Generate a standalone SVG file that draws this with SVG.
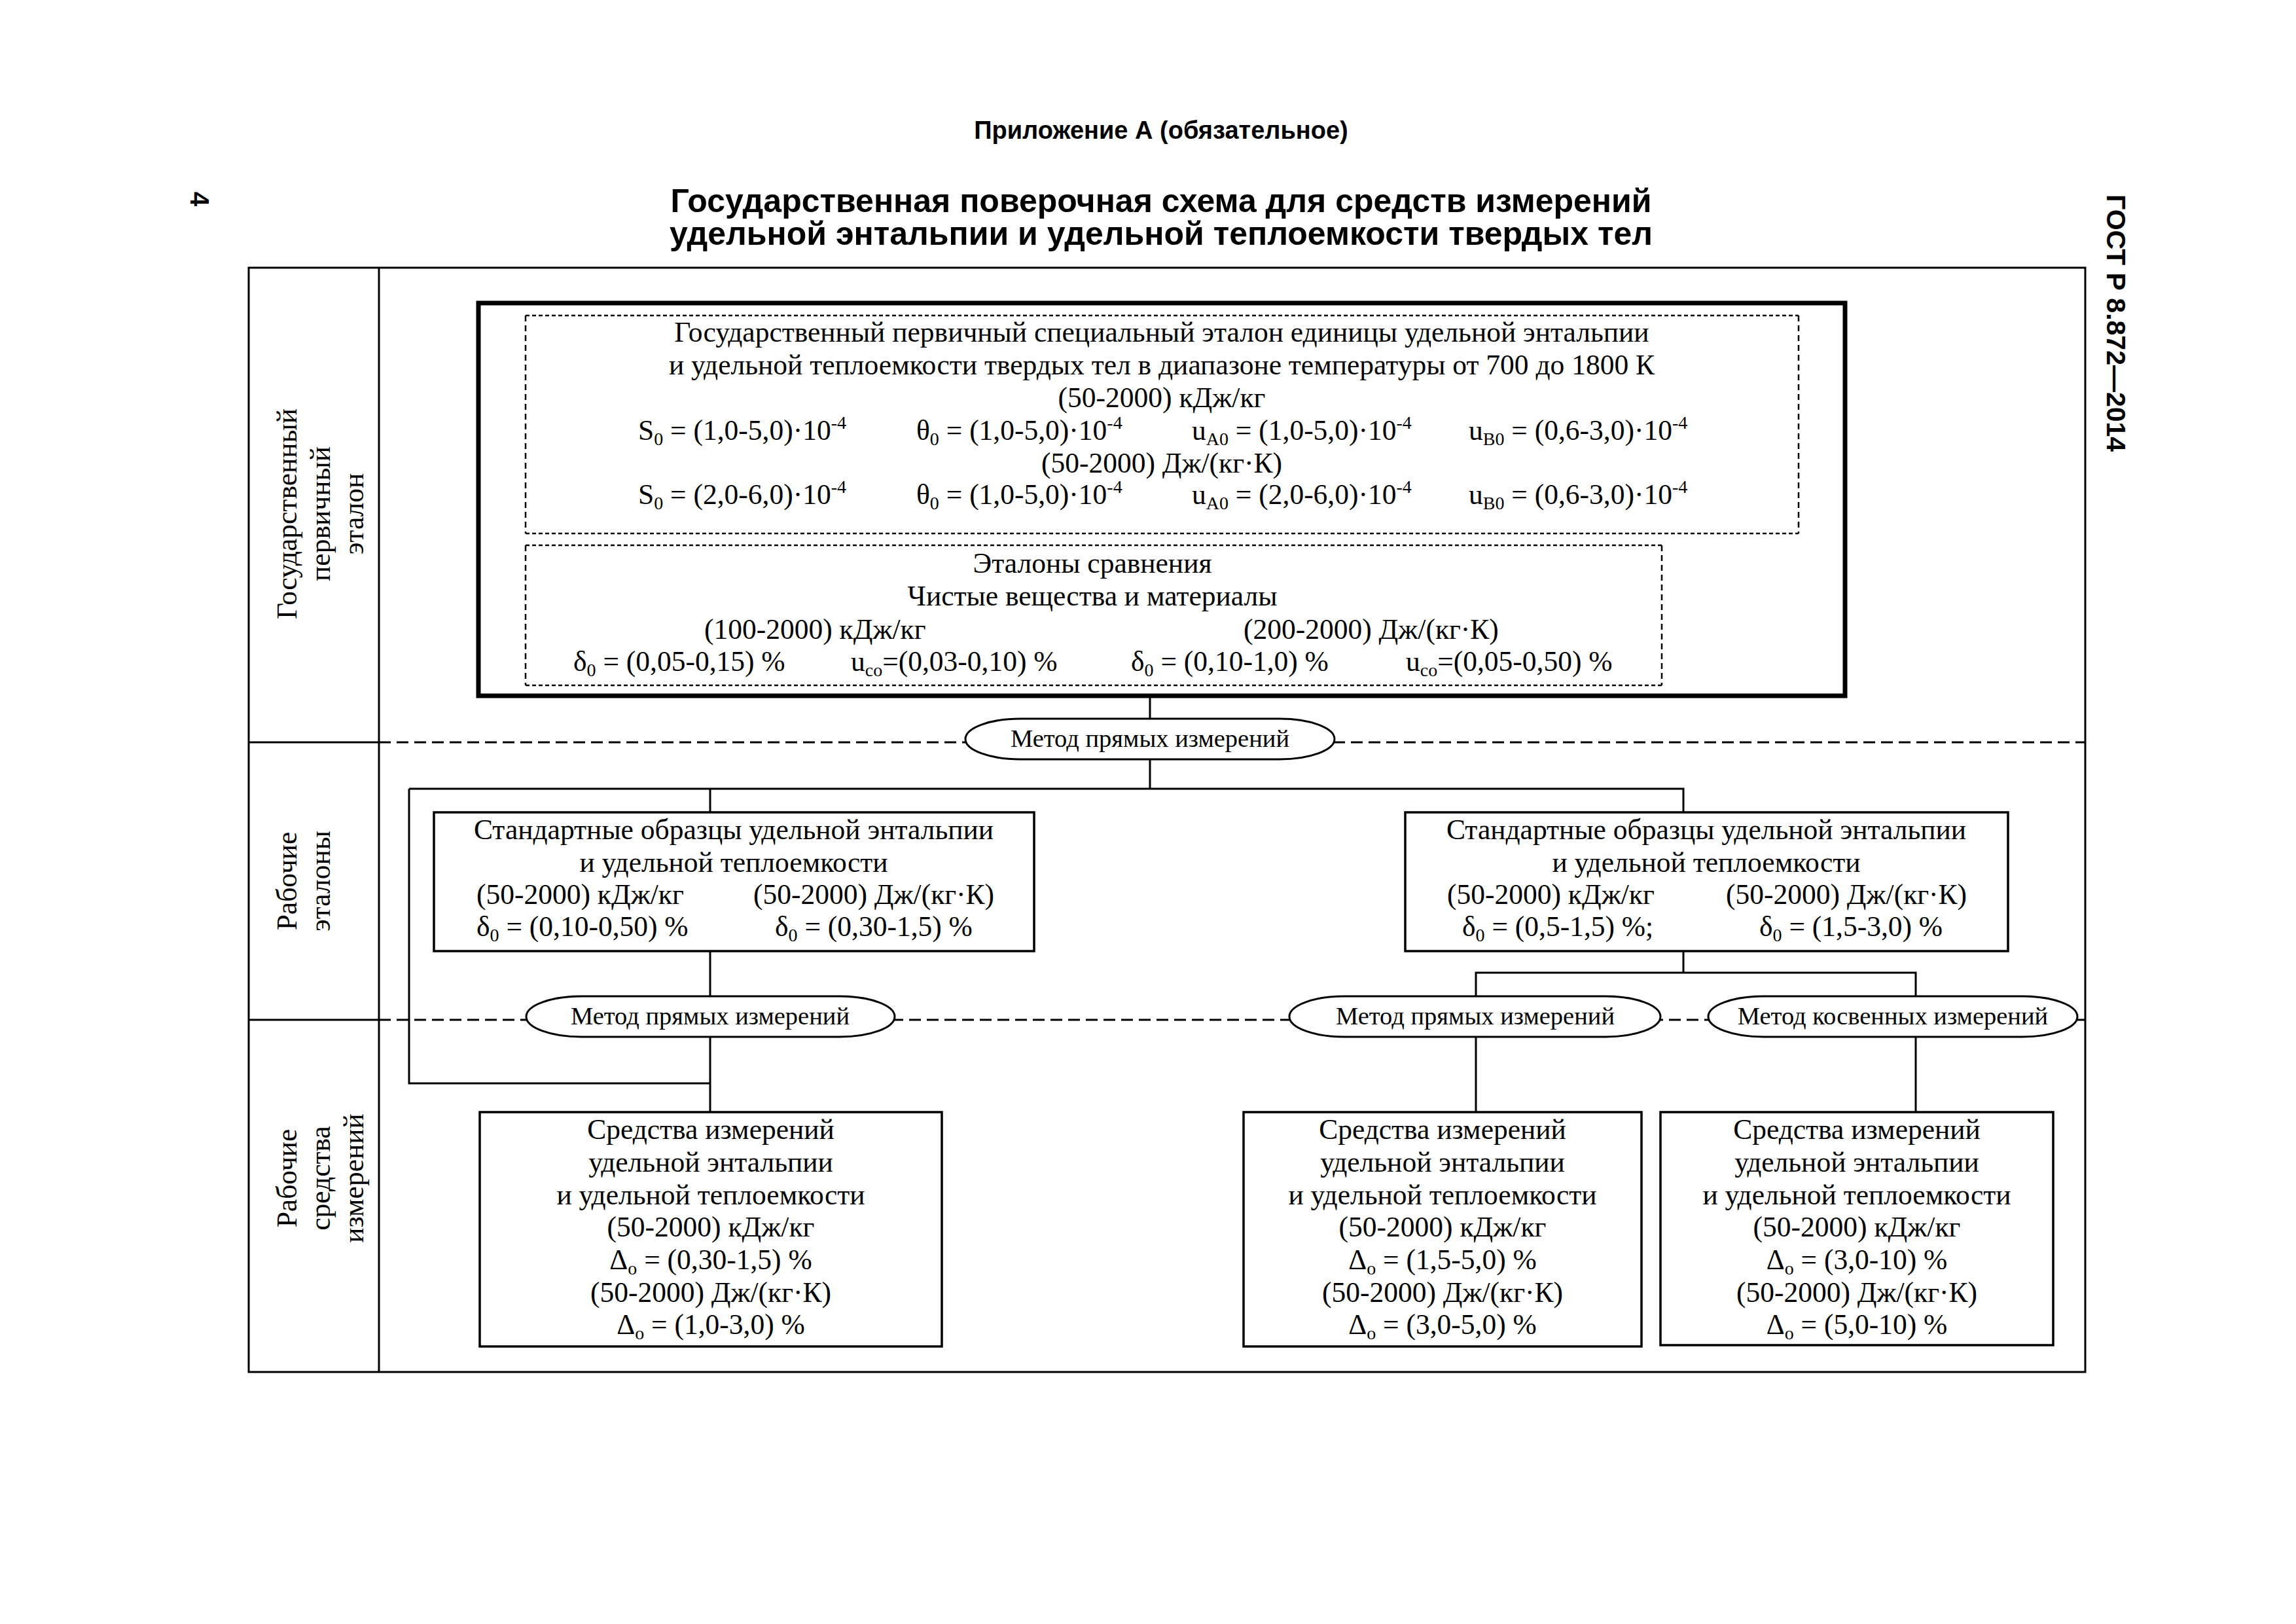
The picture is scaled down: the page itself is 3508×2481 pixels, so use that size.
<svg xmlns="http://www.w3.org/2000/svg" width="3508" height="2481" viewBox="0 0 3508 2481">
<style>
.sans{font-family:"Liberation Sans",Arial,sans-serif;font-weight:bold;fill:#000}
.t{font-family:"Liberation Serif","Times New Roman",serif;font-size:43.5px;fill:#000}
.m{text-anchor:middle}
.e{font-family:"Liberation Serif","Times New Roman",serif;font-size:38.5px;fill:#000;text-anchor:middle}
.s{font-size:28px}
.frame{fill:none;stroke:#000;stroke-width:3}
.box{fill:#fff;stroke:#000;stroke-width:3.5}
.thick{fill:none;stroke:#000;stroke-width:7}
.dh{stroke:#000;stroke-width:2.5;stroke-dasharray:6 4;fill:none}
.dv{stroke:#000;stroke-width:2.5;stroke-dasharray:9 6;fill:none}
.row{stroke:#000;stroke-width:3;stroke-dasharray:18 9;fill:none}
.ln{stroke:#000;stroke-width:3;fill:none}
.term{fill:#fff;stroke:#000;stroke-width:3}
</style>
<rect width="3508" height="2481" fill="#fff"/>

<g id="header">
<text class="sans m" x="1774" y="212" font-size="38">Приложение А (обязательное)</text>
<text class="sans m" x="1774" y="324" font-size="50">Государственная поверочная схема для средств измерений</text>
<text class="sans m" x="1774" y="374" font-size="50">удельной энтальпии и удельной теплоемкости твердых тел</text>
<text class="sans" font-size="40" transform="translate(291,293) rotate(90)">4</text>
<text class="sans" font-size="41" transform="translate(3219,297) rotate(90)">ГОСТ Р 8.872—2014</text>
</g>

<g id="frame">
<rect class="frame" x="380" y="409" width="2806" height="1687"/>
<line class="frame" x1="579" y1="409" x2="579" y2="2096"/>
<line class="ln" x1="380" y1="1134" x2="579" y2="1134"/>
<line class="ln" x1="380" y1="1558" x2="579" y2="1558"/>
<line class="row" x1="579" y1="1134" x2="3186" y2="1134"/>
<line class="row" x1="579" y1="1558" x2="3186" y2="1558"/>
</g>

<g id="row-labels">
<g class="t m">
<text transform="translate(453,785) rotate(-90)">Государственный</text>
<text transform="translate(504,785) rotate(-90)">первичный</text>
<text transform="translate(555,785) rotate(-90)">эталон</text>
<text transform="translate(453,1346) rotate(-90)">Рабочие</text>
<text transform="translate(504,1346) rotate(-90)">эталоны</text>
<text transform="translate(453,1800) rotate(-90)">Рабочие</text>
<text transform="translate(504,1800) rotate(-90)">средства</text>
<text transform="translate(555,1800) rotate(-90)">измерений</text>
</g>
</g>

<g id="connectors">
<line class="ln" x1="1757" y1="1063" x2="1757" y2="1098"/>
<line class="ln" x1="1757" y1="1160" x2="1757" y2="1205"/>
<polyline class="ln" points="625,1205 2572,1205 2572,1241"/>
<polyline class="ln" points="1085,1205 1085,1241"/>
<polyline class="ln" points="625,1205 625,1655 1085,1655"/>
<line class="ln" x1="1085" y1="1453" x2="1085" y2="1522"/>
<line class="ln" x1="1085" y1="1584" x2="1085" y2="1699"/>
<line class="ln" x1="2572" y1="1453" x2="2572" y2="1486"/>
<polyline class="ln" points="2255,1522 2255,1486 2927,1486 2927,1522"/>
<line class="ln" x1="2255" y1="1584" x2="2255" y2="1699"/>
<line class="ln" x1="2927" y1="1584" x2="2927" y2="1699"/>
</g>

<g id="primary-standard">
<rect class="thick" x="731" y="463" width="2088" height="600"/>
<g id="primary-inner">
<line class="dh" x1="803" y1="482" x2="2748" y2="482"/>
<line class="dh" x1="803" y1="815" x2="2748" y2="815"/>
<line class="dv" x1="803" y1="482" x2="803" y2="815"/>
<line class="dv" x1="2748" y1="482" x2="2748" y2="815"/>
<text class="t m" x="1775" y="522">Государственный первичный специальный эталон единицы удельной энтальпии</text>
<text class="t m" x="1775" y="572">и удельной теплоемкости твердых тел в диапазоне температуры от 700 до 1800 К</text>
<text class="t m" x="1775" y="622">(50-2000) кДж/кг</text>
<text class="t" x="975" y="672">S<tspan class="s" dy="8">0</tspan><tspan dy="-8"> = (1,0-5,0)·10</tspan><tspan class="s" dy="-17">-4</tspan></text>
<text class="t" x="1400" y="672">θ<tspan class="s" dy="8">0</tspan><tspan dy="-8"> = (1,0-5,0)·10</tspan><tspan class="s" dy="-17">-4</tspan></text>
<text class="t" x="1821" y="672">u<tspan class="s" dy="8">A0</tspan><tspan dy="-8"> = (1,0-5,0)·10</tspan><tspan class="s" dy="-17">-4</tspan></text>
<text class="t" x="2244" y="672">u<tspan class="s" dy="8">B0</tspan><tspan dy="-8"> = (0,6-3,0)·10</tspan><tspan class="s" dy="-17">-4</tspan></text>
<text class="t m" x="1775" y="722">(50-2000) Дж/(кг·К)</text>
<text class="t" x="975" y="770">S<tspan class="s" dy="8">0</tspan><tspan dy="-8"> = (2,0-6,0)·10</tspan><tspan class="s" dy="-17">-4</tspan></text>
<text class="t" x="1400" y="770">θ<tspan class="s" dy="8">0</tspan><tspan dy="-8"> = (1,0-5,0)·10</tspan><tspan class="s" dy="-17">-4</tspan></text>
<text class="t" x="1821" y="770">u<tspan class="s" dy="8">A0</tspan><tspan dy="-8"> = (2,0-6,0)·10</tspan><tspan class="s" dy="-17">-4</tspan></text>
<text class="t" x="2244" y="770">u<tspan class="s" dy="8">B0</tspan><tspan dy="-8"> = (0,6-3,0)·10</tspan><tspan class="s" dy="-17">-4</tspan></text>
</g>
<g id="comparison-standards">
<line class="dh" x1="803" y1="833" x2="2539" y2="833"/>
<line class="dh" x1="803" y1="1047" x2="2539" y2="1047"/>
<line class="dv" x1="803" y1="833" x2="803" y2="1047"/>
<line class="dv" x1="2539" y1="833" x2="2539" y2="1047"/>
<text class="t m" x="1669" y="875">Эталоны сравнения</text>
<text class="t m" x="1669" y="925">Чистые вещества и материалы</text>
<text class="t" x="1076" y="976">(100-2000) кДж/кг</text>
<text class="t" x="1900" y="976">(200-2000) Дж/(кг·К)</text>
<text class="t" x="876" y="1025">δ<tspan class="s" dy="8">0</tspan><tspan dy="-8"> = (0,05-0,15) %</tspan></text>
<text class="t" x="1300" y="1025">u<tspan class="s" dy="8">co</tspan><tspan dy="-8">=(0,03-0,10) %</tspan></text>
<text class="t" x="1728" y="1025">δ<tspan class="s" dy="8">0</tspan><tspan dy="-8"> = (0,10-1,0) %</tspan></text>
<text class="t" x="2148" y="1025">u<tspan class="s" dy="8">co</tspan><tspan dy="-8">=(0,05-0,50) %</tspan></text>
</g>
</g>

<g id="method-1">
<rect class="term" x="1475" y="1098" width="564" height="62" rx="84" ry="31"/>
<text class="e" x="1757" y="1141">Метод прямых измерений</text>
</g>

<g id="work-standard-1">
<rect class="box" x="663" y="1241" width="917" height="212"/>
<text class="t m" x="1121" y="1282">Стандартные образцы удельной энтальпии</text>
<text class="t m" x="1121" y="1332">и удельной теплоемкости</text>
<text class="t" x="728" y="1381">(50-2000) кДж/кг</text>
<text class="t" x="1151" y="1381">(50-2000) Дж/(кг·К)</text>
<text class="t" x="728" y="1430">δ<tspan class="s" dy="8">0</tspan><tspan dy="-8"> = (0,10-0,50) %</tspan></text>
<text class="t" x="1184" y="1430">δ<tspan class="s" dy="8">0</tspan><tspan dy="-8"> = (0,30-1,5) %</tspan></text>
</g>

<g id="work-standard-2">
<rect class="box" x="2147" y="1241" width="921" height="212"/>
<text class="t m" x="2607" y="1282">Стандартные образцы удельной энтальпии</text>
<text class="t m" x="2607" y="1332">и удельной теплоемкости</text>
<text class="t" x="2211" y="1381">(50-2000) кДж/кг</text>
<text class="t" x="2637" y="1381">(50-2000) Дж/(кг·К)</text>
<text class="t" x="2234" y="1430">δ<tspan class="s" dy="8">0</tspan><tspan dy="-8"> = (0,5-1,5) %;</tspan></text>
<text class="t" x="2688" y="1430">δ<tspan class="s" dy="8">0</tspan><tspan dy="-8"> = (1,5-3,0) %</tspan></text>
</g>

<g id="method-2">
<rect class="term" x="804" y="1522" width="563" height="62" rx="84" ry="31"/>
<text class="e" x="1085" y="1565">Метод прямых измерений</text>
</g>
<g id="method-3">
<rect class="term" x="1970" y="1522" width="567" height="62" rx="84" ry="31"/>
<text class="e" x="2254" y="1565">Метод прямых измерений</text>
</g>
<g id="method-4">
<rect class="term" x="2610" y="1522" width="564" height="62" rx="84" ry="31"/>
<text class="e" x="2892" y="1565">Метод косвенных измерений</text>
</g>

<g id="instrument-1">
<rect class="box" x="733" y="1699" width="706" height="358"/>
<g class="t m">
<text x="1086" y="1740">Средства измерений</text>
<text x="1086" y="1790">удельной энтальпии</text>
<text x="1086" y="1840">и удельной теплоемкости</text>
<text x="1086" y="1889">(50-2000) кДж/кг</text>
<text x="1086" y="1939">Δ<tspan class="s" dy="8">o</tspan><tspan dy="-8"> = (0,30-1,5) %</tspan></text>
<text x="1086" y="1989">(50-2000) Дж/(кг·К)</text>
<text x="1086" y="2038">Δ<tspan class="s" dy="8">o</tspan><tspan dy="-8"> = (1,0-3,0) %</tspan></text>
</g>
</g>

<g id="instrument-2">
<rect class="box" x="1900" y="1699" width="608" height="358"/>
<g class="t m">
<text x="2204" y="1740">Средства измерений</text>
<text x="2204" y="1790">удельной энтальпии</text>
<text x="2204" y="1840">и удельной теплоемкости</text>
<text x="2204" y="1889">(50-2000) кДж/кг</text>
<text x="2204" y="1939">Δ<tspan class="s" dy="8">o</tspan><tspan dy="-8"> = (1,5-5,0) %</tspan></text>
<text x="2204" y="1989">(50-2000) Дж/(кг·К)</text>
<text x="2204" y="2038">Δ<tspan class="s" dy="8">o</tspan><tspan dy="-8"> = (3,0-5,0) %</tspan></text>
</g>
</g>

<g id="instrument-3">
<rect class="box" x="2537" y="1699" width="600" height="356"/>
<g class="t m">
<text x="2837" y="1740">Средства измерений</text>
<text x="2837" y="1790">удельной энтальпии</text>
<text x="2837" y="1840">и удельной теплоемкости</text>
<text x="2837" y="1889">(50-2000) кДж/кг</text>
<text x="2837" y="1939">Δ<tspan class="s" dy="8">o</tspan><tspan dy="-8"> = (3,0-10) %</tspan></text>
<text x="2837" y="1989">(50-2000) Дж/(кг·К)</text>
<text x="2837" y="2038">Δ<tspan class="s" dy="8">o</tspan><tspan dy="-8"> = (5,0-10) %</tspan></text>
</g>
</g>
</svg>
